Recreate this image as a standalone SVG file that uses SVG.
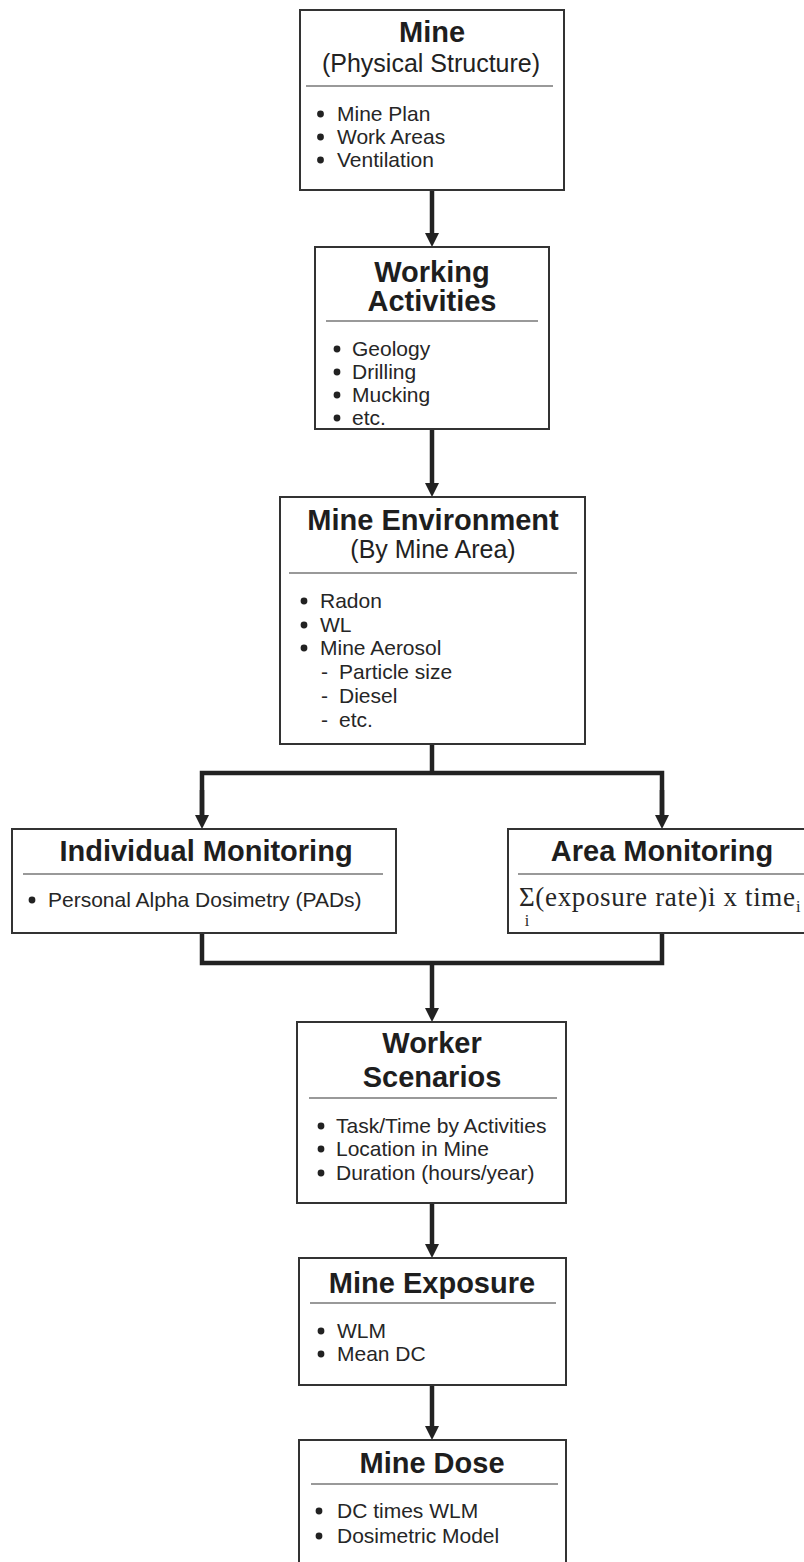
<svg xmlns="http://www.w3.org/2000/svg" width="804" height="1562" viewBox="0 0 804 1562">
<style>
.box{fill:#fff;stroke:#333;stroke-width:2}
.div{stroke:#777;stroke-width:1.5}
.title{font-family:"Liberation Sans",Arial,sans-serif;font-weight:bold;font-size:29px;fill:#1e1e1e;text-anchor:middle}
.sub{font-family:"Liberation Sans",Arial,sans-serif;font-size:25px;fill:#222;text-anchor:middle}
.body{font-family:"Liberation Sans",Arial,sans-serif;font-size:21px;fill:#262626}
.dot{fill:#222}
.math{font-family:"Liberation Serif","Times New Roman",serif;fill:#262626}
.conn{fill:none;stroke:#222;stroke-width:4.5;stroke-linejoin:miter}
</style>
<defs>
<marker id="ah" markerUnits="userSpaceOnUse" markerWidth="15" markerHeight="15" refX="0" refY="7" orient="auto" viewBox="0 0 15 14">
<path d="M0,0 L14,7 L0,14 z" fill="#222"/>
</marker>
</defs>
<rect width="804" height="1562" fill="#fff"/>

<g id="connectors">
<path class="conn" d="M432,190 V233" marker-end="url(#ah)"/>
<path class="conn" d="M432,429 V483" marker-end="url(#ah)"/>
<path class="conn" d="M432,744 V773"/>
<path class="conn" d="M202,815 V773 H662 V815" />
<path class="conn" d="M202,790 V815" marker-end="url(#ah)"/>
<path class="conn" d="M662,790 V815" marker-end="url(#ah)"/>
<path class="conn" d="M202,933 V963 H662 V933"/>
<path class="conn" d="M432,963 V1008" marker-end="url(#ah)"/>
<path class="conn" d="M432,1203 V1244" marker-end="url(#ah)"/>
<path class="conn" d="M432,1385 V1426" marker-end="url(#ah)"/>
</g>

<g id="mine">
<rect class="box" x="300" y="10" width="264" height="180"/>
<text class="title" x="432" y="42">Mine</text>
<text class="sub" x="431" y="72">(Physical Structure)</text>
<line class="div" x1="306" y1="86" x2="553" y2="86"/>
<circle class="dot" cx="320.5" cy="114" r="3.4"/>
<circle class="dot" cx="320.5" cy="137" r="3.4"/>
<circle class="dot" cx="320.5" cy="160" r="3.4"/>
<text class="body" x="337" y="121">Mine Plan</text>
<text class="body" x="337" y="144">Work Areas</text>
<text class="body" x="337" y="167">Ventilation</text>
</g>

<g id="working-activities">
<rect class="box" x="315" y="247" width="234" height="182"/>
<text class="title" x="432" y="282">Working</text>
<text class="title" x="432" y="311">Activities</text>
<line class="div" x1="326" y1="321" x2="538" y2="321"/>
<circle class="dot" cx="337" cy="349" r="3.4"/>
<circle class="dot" cx="337" cy="372" r="3.4"/>
<circle class="dot" cx="337" cy="395" r="3.4"/>
<circle class="dot" cx="337" cy="418" r="3.4"/>
<text class="body" x="352" y="356">Geology</text>
<text class="body" x="352" y="379">Drilling</text>
<text class="body" x="352" y="402">Mucking</text>
<text class="body" x="352" y="425">etc.</text>
</g>

<g id="mine-environment">
<rect class="box" x="280" y="497" width="305" height="247"/>
<text class="title" x="433" y="530">Mine Environment</text>
<text class="sub" x="433" y="558">(By Mine Area)</text>
<line class="div" x1="289" y1="573" x2="577" y2="573"/>
<circle class="dot" cx="304" cy="601" r="3.4"/>
<circle class="dot" cx="304" cy="625" r="3.4"/>
<circle class="dot" cx="304" cy="648" r="3.4"/>
<text class="body" x="320" y="608">Radon</text>
<text class="body" x="320" y="632">WL</text>
<text class="body" x="320" y="655">Mine Aerosol</text>
<text class="body"><tspan x="321" y="679">-</tspan><tspan x="339">Particle size</tspan></text>
<text class="body"><tspan x="321" y="703">-</tspan><tspan x="339">Diesel</tspan></text>
<text class="body"><tspan x="321" y="727">-</tspan><tspan x="339">etc.</tspan></text>
</g>

<g id="individual-monitoring">
<rect class="box" x="12" y="829" width="384" height="104"/>
<text class="title" x="206" y="861">Individual Monitoring</text>
<line class="div" x1="23" y1="874" x2="383" y2="874"/>
<circle class="dot" cx="32" cy="900" r="3.4"/>
<text class="body" x="48" y="907">Personal Alpha Dosimetry (PADs)</text>
</g>

<g id="area-monitoring">
<rect class="box" x="508" y="829" width="310" height="104"/>
<text class="title" x="662" y="861">Area Monitoring</text>
<line class="div" x1="518" y1="874" x2="810" y2="874"/>
<text class="math" x="519" y="906" font-size="27" textLength="276" lengthAdjust="spacing">Σ(exposure rate)i x time</text>
<text class="math" x="527" y="926" font-size="16" text-anchor="middle">i</text>
<text class="math" x="796" y="912" font-size="16">i</text>
</g>

<g id="worker-scenarios">
<rect class="box" x="297" y="1022" width="269" height="181"/>
<text class="title" x="432" y="1053">Worker</text>
<text class="title" x="432" y="1087">Scenarios</text>
<line class="div" x1="309" y1="1098" x2="557" y2="1098"/>
<circle class="dot" cx="321" cy="1126" r="3.4"/>
<circle class="dot" cx="321" cy="1149" r="3.4"/>
<circle class="dot" cx="321" cy="1173" r="3.4"/>
<text class="body" x="336" y="1133">Task/Time by Activities</text>
<text class="body" x="336" y="1156">Location in Mine</text>
<text class="body" x="336" y="1180">Duration (hours/year)</text>
</g>

<g id="mine-exposure">
<rect class="box" x="299" y="1258" width="267" height="127"/>
<text class="title" x="432" y="1293">Mine Exposure</text>
<line class="div" x1="310" y1="1303" x2="556" y2="1303"/>
<circle class="dot" cx="321" cy="1331" r="3.4"/>
<circle class="dot" cx="321" cy="1354" r="3.4"/>
<text class="body" x="337" y="1338">WLM</text>
<text class="body" x="337" y="1361">Mean DC</text>
</g>

<g id="mine-dose">
<rect class="box" x="299" y="1440" width="267" height="140"/>
<text class="title" x="432" y="1473">Mine Dose</text>
<line class="div" x1="311" y1="1484" x2="558" y2="1484"/>
<circle class="dot" cx="319" cy="1511" r="3.4"/>
<circle class="dot" cx="319" cy="1536" r="3.4"/>
<text class="body" x="337" y="1518">DC times WLM</text>
<text class="body" x="337" y="1543">Dosimetric Model</text>
</g>
</svg>
